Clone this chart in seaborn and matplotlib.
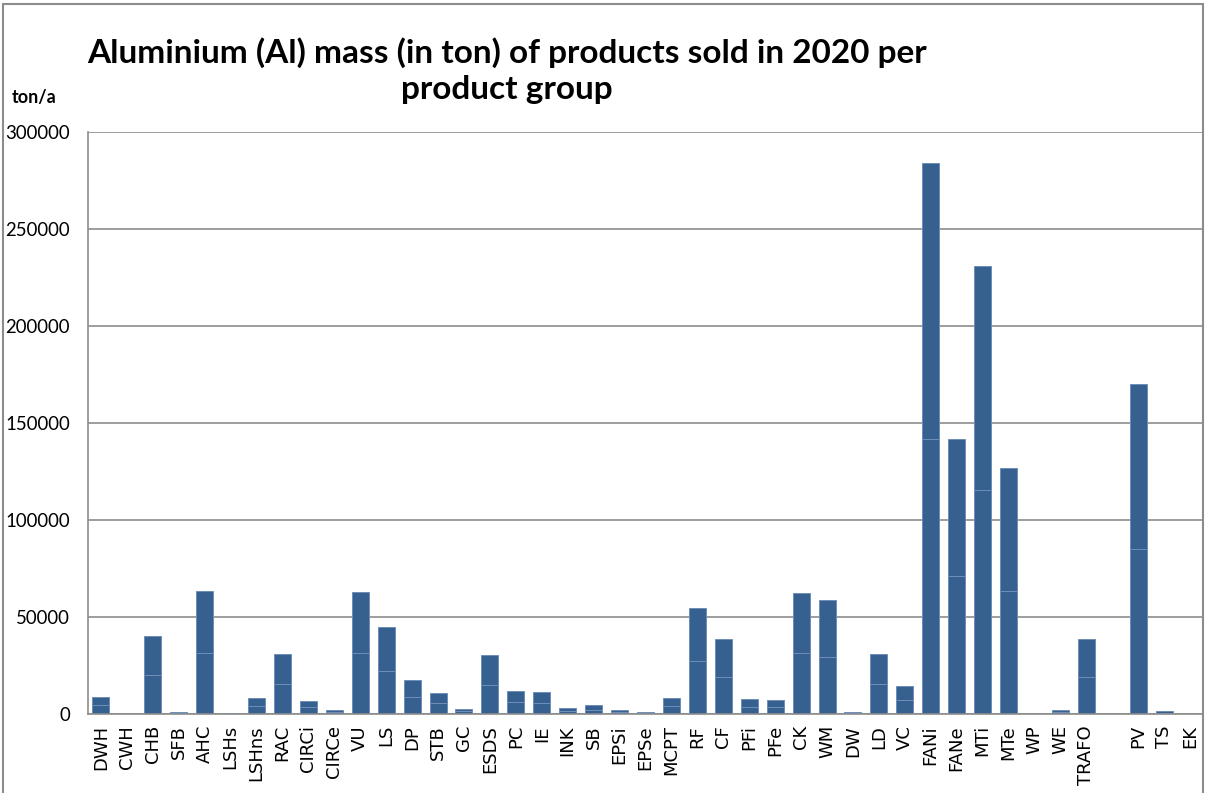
import numpy as np
import pandas as pd
import matplotlib.pyplot as plt
import seaborn as sns
from matplotlib.patches import Rectangle

# product groups (one empty slot between TRAFO and PV, as in the original)
groups = ['DWH', 'CWH', 'CHB', 'SFB', 'AHC', 'LSHs', 'LSHns', 'RAC', 'CIRCi', 'CIRCe',
          'VU', 'LS', 'DP', 'STB', 'GC', 'ESDS', 'PC', 'IE', 'INK', 'SB',
          'EPSi', 'EPSe', 'MCPT', 'RF', 'CF', 'PFi', 'PFe', 'CK', 'WM', 'DW',
          'LD', 'VC', 'FANi', 'FANe', 'MTi', 'MTe', 'WP', 'WE', 'TRAFO', ' ',
          'PV', 'TS', 'EK']
# Al mass in ton/a
al_mass = [8800, 0, 40400, 800, 63400, 700, 8300, 30900, 6800, 2300,
           63000, 44700, 17600, 10900, 2700, 30300, 12000, 11300, 3100, 4600,
           2200, 800, 8000, 54400, 38600, 7700, 7300, 62400, 58700, 1100,
           30900, 14500, 283900, 141800, 230900, 126800, 0, 2200, 38600, 0,
           170000, 1500, 0]

df = pd.DataFrame({'group': groups, 'mass': al_mass})
df['half'] = df['mass'] / 2

bar_col = '#36608f'
edge_col = '#6f8fb8'

fig = plt.figure(figsize=(12.06, 7.93), dpi=100)
ax = fig.add_axes([88 / 1206, 79 / 793, 1115 / 1206, 582 / 793])

sns.barplot(data=df, x='group', y='mass', order=groups, color=bar_col, saturation=1,
            width=0.655, edgecolor=edge_col, linewidth=0.7, ax=ax)
sns.barplot(data=df, x='group', y='half', order=groups, color=bar_col, saturation=1,
            width=0.655, edgecolor=edge_col, linewidth=0.7, ax=ax)

ax.set_xlim(-0.5, len(groups) - 0.5)
ax.set_ylim(0, 300000)
ax.set_yticks(np.arange(0, 300001, 50000))
ax.set_yticklabels([str(v) for v in range(0, 300001, 50000)], fontsize=13.4,
                   family='Lato')
ax.tick_params(axis='y', length=0, pad=13)
ax.tick_params(axis='x', length=0, pad=8)
ax.set_xticks(range(len(groups)))
ax.set_xticklabels(groups, rotation=90, fontsize=13, family='DejaVu Sans')
ax.set_xlabel('')
ax.set_ylabel('')
ax.yaxis.grid(True, color='#8c8c8c', linewidth=1.2)
ax.set_axisbelow(True)
for s in ['top', 'right']:
    ax.spines[s].set_visible(False)
for s in ['left', 'bottom']:
    ax.spines[s].set_color('#8c8c8c')
    ax.spines[s].set_linewidth(1.2)

fig.text(507 / 1206, 1 - 71 / 793,
         'Aluminium (Al) mass (in ton) of products sold in 2020 per\nproduct group',
         ha='center', va='center', fontsize=24, fontweight='bold', family='Lato',
         linespacing=1.3)
fig.text(12 / 1206, 1 - 98 / 793, 'ton/a', ha='left', va='center', fontsize=13,
         fontweight='bold', family='Lato')

fig.patches.append(Rectangle((3 / 1206, -0.01), 1200 / 1206, 1 - 4 / 793 + 0.01,
                             transform=fig.transFigure, fill=False,
                             edgecolor='#8c8c8c', linewidth=1.5))

fig.savefig('out.png', dpi=100)
